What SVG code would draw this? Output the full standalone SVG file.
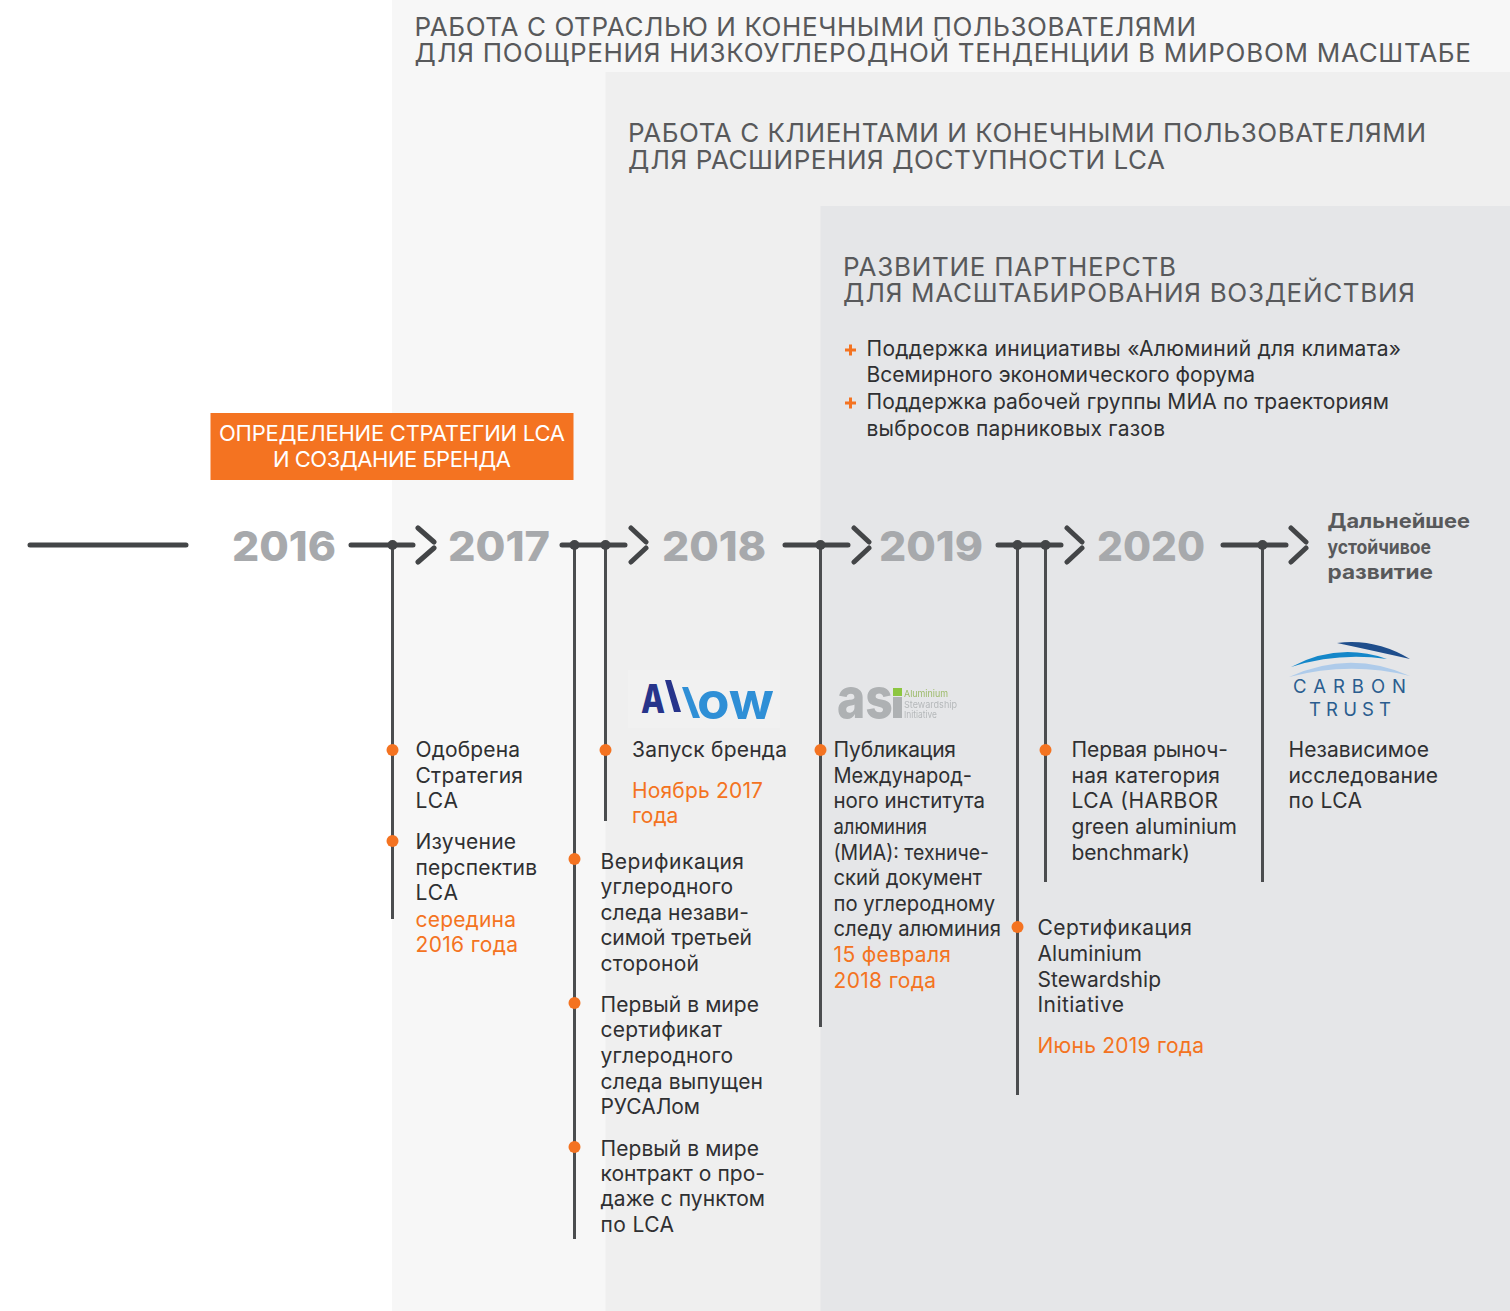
<svg xmlns="http://www.w3.org/2000/svg" width="1510" height="1311" viewBox="0 0 1510 1311">
<defs><filter id="soft" x="-5%" y="-5%" width="110%" height="110%"><feGaussianBlur stdDeviation="0.5"/></filter></defs>
<style>
text{font-family:"Inter","Noto Sans","Liberation Sans",sans-serif}
.h{font-size:26px;fill:#58595b;font-weight:400}
.b{font-size:21px;fill:#2f3032}
.o{font-size:21px;fill:#f47321}
.y{font-size:41.5px;font-weight:800;fill:#a7a9ac}
.w{font-size:22px;fill:#fff;text-anchor:middle}
.f{font-size:20px;font-weight:700;fill:#58595b}
.tl{stroke:#434547;stroke-width:5;stroke-linecap:round;fill:none}
.v{stroke:#4b4d4f;stroke-width:3;fill:none}
.j{fill:#434547}
.d{fill:#f47321}
.p{stroke:#f47321;stroke-width:3;fill:none}
</style>
<rect width="1510" height="1311" fill="#fff"/>
<g id="panels">
<rect x="392" y="0" width="1118" height="1311" fill="#f7f7f7"/>
<rect x="605.500" y="72" width="904.500" height="1239" fill="#efefef"/>
<rect x="820.500" y="206" width="689.500" height="1105" fill="#e5e6e8"/>
</g>
<g id="headers">
<text class="h" x="414.500" y="35.500" textLength="781.500">РАБОТА С ОТРАСЛЬЮ И КОНЕЧНЫМИ ПОЛЬЗОВАТЕЛЯМИ</text>
<text class="h" x="414.500" y="62" textLength="1056.500">ДЛЯ ПООЩРЕНИЯ НИЗКОУГЛЕРОДНОЙ ТЕНДЕНЦИИ В МИРОВОМ МАСШТАБЕ</text>
<text class="h" x="628" y="142" textLength="798">РАБОТА С КЛИЕНТАМИ И КОНЕЧНЫМИ ПОЛЬЗОВАТЕЛЯМИ</text>
<text class="h" x="628" y="169" textLength="537">ДЛЯ РАСШИРЕНИЯ ДОСТУПНОСТИ LCA</text>
<text class="h" x="843" y="276" textLength="333">РАЗВИТИЕ ПАРТНЕРСТВ</text>
<text class="h" x="843" y="302" textLength="572">ДЛЯ МАСШТАБИРОВАНИЯ ВОЗДЕЙСТВИЯ</text>
</g>
<g id="bullets">
<path class="p" d="M845 350h11M850.500 344.500v11M845 403h11M850.500 397.500v11"/>
<text class="b" x="866.500" y="356" textLength="534.500">Поддержка инициативы «Алюминий для климата»</text>
<text class="b" x="866.500" y="382" textLength="388.500">Всемирного экономического форума</text>
<text class="b" x="866.500" y="409" textLength="522.500">Поддержка рабочей группы МИА по траекториям</text>
<text class="b" x="866.500" y="436" textLength="298.500">выбросов парниковых газов</text>
</g>
<g id="strategy">
<rect x="210.500" y="413" width="363" height="67" fill="#f47321"/>
<text class="w" x="392" y="441" textLength="346">ОПРЕДЕЛЕНИЕ СТРАТЕГИИ LCA</text>
<text class="w" x="392" y="467" textLength="238">И СОЗДАНИЕ БРЕНДА</text>
</g>
<g id="connectors">
<path class="tl" d="M30 545H186M351 545H413M562 545H625M785 545H848M998 545H1061M1223 545H1286"/>
<path class="tl" d="M418 528L434 542M418 562L434 548M631 528L646 542M631 562L646 548M854 528L869 542M854 562L869 548M1067 528L1082 542M1067 562L1082 548M1291 528L1306 542M1291 562L1306 548"/>
<path class="v" d="M392.500 545V919M574.500 545V1239M605.500 545V821M820.500 545V1027M1017.500 545V1095M1045.500 545V882M1262.500 545V882"/>
<g class="j"><circle cx="392.500" cy="545" r="5"/><circle cx="574.500" cy="545" r="5"/><circle cx="605.500" cy="545" r="5"/><circle cx="820.500" cy="545" r="5"/><circle cx="1017.500" cy="545" r="5"/><circle cx="1045.500" cy="545" r="5"/><circle cx="1262.500" cy="545" r="5"/></g>
<g class="d"><circle cx="392.500" cy="750" r="6"/><circle cx="392.500" cy="841" r="6"/><circle cx="605.500" cy="750" r="6"/><circle cx="574.500" cy="859" r="6"/><circle cx="574.500" cy="1003" r="6"/><circle cx="574.500" cy="1147" r="6"/><circle cx="820.500" cy="750" r="6"/><circle cx="1045.500" cy="750" r="6"/><circle cx="1017.500" cy="927" r="6"/></g>
</g>
<g id="years">
<text class="y" x="232" y="561" textLength="104" lengthAdjust="spacingAndGlyphs">2016</text>
<text class="y" x="448" y="561" textLength="102" lengthAdjust="spacingAndGlyphs">2017</text>
<text class="y" x="662" y="561" textLength="104" lengthAdjust="spacingAndGlyphs">2018</text>
<text class="y" x="879" y="561" textLength="104" lengthAdjust="spacingAndGlyphs">2019</text>
<text class="y" x="1097" y="561" textLength="108" lengthAdjust="spacingAndGlyphs">2020</text>
</g>
<g id="further">
<text class="f" x="1327.500" y="528" textLength="142.500" lengthAdjust="spacingAndGlyphs">Дальнейшее</text>
<text class="f" x="1327.500" y="554" textLength="103.500" lengthAdjust="spacingAndGlyphs">устойчивое</text>
<text class="f" x="1327.500" y="579" textLength="105.500" lengthAdjust="spacingAndGlyphs">развитие</text>
</g>
<g id="node-2016">
<text class="b" x="415.500" y="757" textLength="104.500">Одобрена</text>
<text class="b" x="415.500" y="783" textLength="107.500">Стратегия</text>
<text class="b" x="415.500" y="808" textLength="42.500">LCA</text>
<text class="b" x="415.500" y="849" textLength="100.500">Изучение</text>
<text class="b" x="415.500" y="875" textLength="121.500">перспектив</text>
<text class="b" x="415.500" y="900" textLength="42.500">LCA</text>
<text class="o" x="415.500" y="926.500" textLength="100.500">середина</text>
<text class="o" x="415.500" y="951.500" textLength="102.500">2016 года</text>
</g>
<g id="node-2017a">
<text class="b" x="600.500" y="868.500" textLength="143.500">Верификация</text>
<text class="b" x="600.500" y="894" textLength="132.500">углеродного</text>
<text class="b" x="600.500" y="919.500" textLength="148.500">следа незави-</text>
<text class="b" x="600.500" y="945" textLength="151.500">симой третьей</text>
<text class="b" x="600.500" y="971" textLength="98.500">стороной</text>
<text class="b" x="600.500" y="1011.500" textLength="158.500">Первый в мире</text>
<text class="b" x="600.500" y="1037" textLength="121.500">сертификат</text>
<text class="b" x="600.500" y="1063" textLength="132.500">углеродного</text>
<text class="b" x="600.500" y="1088.500" textLength="162.500">следа выпущен</text>
<text class="b" x="600.500" y="1114" textLength="99.500">РУСАЛом</text>
<text class="b" x="600.500" y="1155.500" textLength="158.500">Первый в мире</text>
<text class="b" x="600.500" y="1180.500" textLength="164.500">контракт о про-</text>
<text class="b" x="600.500" y="1206" textLength="164.500">даже с пунктом</text>
<text class="b" x="600.500" y="1231.500" textLength="73.500">по LCA</text>
</g>
<g id="node-2017b">
<rect x="628" y="670" width="152" height="58" fill="#f1f1f1"/>
<text x="641" y="713" font-size="39" font-weight="800" fill="#27348b" textLength="24" lengthAdjust="spacingAndGlyphs">A</text>
<path d="M665 680h6l10 32h-7z" fill="#27348b"/>
<path d="M682 687h6l12 31h-7z" fill="#2f8fd6"/>
<text x="697" y="718.500" font-size="52" font-weight="700" fill="#2f8fd6" textLength="77" lengthAdjust="spacingAndGlyphs">ow</text>
<text class="b" x="632" y="757" textLength="155">Запуск бренда</text>
<text class="o" x="632" y="798" textLength="131">Ноябрь 2017</text>
<text class="o" x="632" y="823">года</text>
</g>
<g id="node-2018">
<g filter="url(#soft)">
<text x="837" y="718" font-size="56" font-weight="800" fill="#aeb1b3" textLength="56" lengthAdjust="spacingAndGlyphs">as</text>
<rect x="893" y="697" width="9" height="21" fill="#aeb1b3"/>
<rect x="893" y="688" width="9" height="8" fill="#8cc63f"/>
<text x="904" y="697" font-size="9.500" fill="#9dbb6a" textLength="44" lengthAdjust="spacingAndGlyphs">Aluminium</text>
<text x="904" y="708" font-size="9.500" fill="#b5b8ba" textLength="53" lengthAdjust="spacingAndGlyphs">Stewardship</text>
<text x="904" y="718" font-size="9.500" fill="#b5b8ba" textLength="33" lengthAdjust="spacingAndGlyphs">Initiative</text>
</g>
<text class="b" x="833.500" y="757" textLength="122.500">Публикация</text>
<text class="b" x="833.500" y="783" textLength="138.500" lengthAdjust="spacingAndGlyphs">Международ-</text>
<text class="b" x="833.500" y="808" textLength="151.500" lengthAdjust="spacingAndGlyphs">ного института</text>
<text class="b" x="833.500" y="834" textLength="93.500" lengthAdjust="spacingAndGlyphs">алюминия</text>
<text class="b" x="833.500" y="860" textLength="155.500" lengthAdjust="spacingAndGlyphs">(МИА): техниче-</text>
<text class="b" x="833.500" y="885" textLength="148.500" lengthAdjust="spacingAndGlyphs">ский документ</text>
<text class="b" x="833.500" y="911" textLength="161.500" lengthAdjust="spacingAndGlyphs">по углеродному</text>
<text class="b" x="833.500" y="936" textLength="167.500" lengthAdjust="spacingAndGlyphs">следу алюминия</text>
<text class="o" x="833.500" y="962" textLength="117.500">15 февраля</text>
<text class="o" x="833.500" y="988" textLength="102.500">2018 года</text>
</g>
<g id="node-2019a">
<text class="b" x="1037.500" y="935" textLength="154.500">Сертификация</text>
<text class="b" x="1037.500" y="961" textLength="104.500">Aluminium</text>
<text class="b" x="1037.500" y="987" textLength="123.500">Stewardship</text>
<text class="b" x="1037.500" y="1012" textLength="86.500">Initiative</text>
<text class="o" x="1037.500" y="1053" textLength="166.500">Июнь 2019 года</text>
</g>
<g id="node-2019b">
<text class="b" x="1071.500" y="757" textLength="156.500">Первая рыноч-</text>
<text class="b" x="1071.500" y="783" textLength="148.500">ная категория</text>
<text class="b" x="1071.500" y="808" textLength="146.500">LCA (HARBOR</text>
<text class="b" x="1071.500" y="834" textLength="165.500">green aluminium</text>
<text class="b" x="1071.500" y="860" textLength="118.500">benchmark)</text>
</g>
<g id="node-2020">
<path d="M1337 643Q1375 638 1410 659Q1370 650 1337 643Z" fill="#1f4e8c"/>
<path d="M1291 667Q1338 642 1387 659Q1338 652 1291 667Z" fill="#1487c9"/>
<path d="M1289 677Q1350 649 1410 676Q1350 661 1289 677Z" fill="#aecbea"/>
<text x="1293" y="693" font-size="18.500" fill="#2a5d8f" font-family="Open Sans" textLength="113">CARBON</text>
<text x="1309" y="716" font-size="18.500" fill="#2a5d8f" font-family="Open Sans" textLength="82">TRUST</text>
<text class="b" x="1288.500" y="757" textLength="140.500">Независимое</text>
<text class="b" x="1288.500" y="783" textLength="149.500">исследование</text>
<text class="b" x="1288.500" y="808" textLength="73.500">по LCA</text>
</g>
</svg>
